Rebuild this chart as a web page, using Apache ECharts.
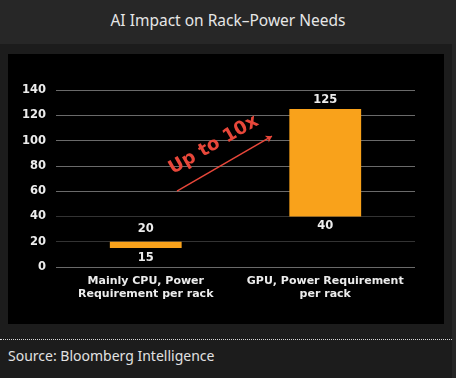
<!DOCTYPE html>
<html>
<head>
<meta charset="utf-8">
<script src="https://cdn.jsdelivr.net/npm/echarts@6/dist/echarts.min.js"></script>
<style>
  html, body { margin: 0; padding: 0; }
  body { width: 456px; height: 378px; background: #1c1c1c; overflow: hidden; position: relative; }
  #head { position: absolute; left: 0; top: 0; width: 456px; height: 44px; background: #272727;
          color: #e6e6e6; font: 15.5px "Noto Sans", sans-serif; text-align: center; line-height: 40px; }
  #chart { position: absolute; left: 8px; top: 54px; width: 436px; height: 270px; }
  #rule { position: absolute; left: 0; top: 339px; width: 452px; border-top: 1px dotted #d8d8d8; }
  #src { position: absolute; left: 8px; top: 346px; color: #e2e2e2; font: 14px "Noto Sans", sans-serif; }
  #bar { position: absolute; left: 452px; top: 44px; width: 4px; height: 334px; background: #262626; }
</style>
</head>
<body>
<div id="head">AI Impact on Rack–Power Needs</div>
<div id="chart"></div>
<div id="rule"></div>
<div id="src">Source: Bloomberg Intelligence</div>
<div id="bar"></div>
<script>
// rack power, floating bars low -> high
var categories = ['Mainly CPU, Power\nRequirement per rack', 'GPU, Power Requirement\nper rack'];
var lowValues = [15, 40];
var highValues = [20, 125];
var yTicks = { min: 0, max: 140, interval: 20 };
// "Up to 10x" arrow, in (category position, value) space
var arrowFrom = [0.674, 60];
var arrowTo = [1.203, 103.5];

var orange = '#f9a21b';
var red = '#e8473a';
var txt = '#ececec';
var font = '"DejaVu Sans", Verdana, sans-serif';

var spans = highValues.map(function(h, i) { return h - lowValues[i]; });
var topGap = [7, 3];

var chart = echarts.init(document.getElementById('chart'));
chart.setOption({
	backgroundColor: '#000',
	animation: false,
	grid: { left: 48, right: 29, top: 36, bottom: 57 },
	xAxis: [{
		type: 'category',
		data: categories,
		axisLine: { show: false },
		axisTick: { show: false },
		axisLabel: { interval: 0, color: txt, fontFamily: font, fontWeight: 'bold', fontSize: 11, lineHeight: 13, margin: 8 }
	}, {
		type: 'value',
		min: 0,
		max: 2,
		show: false
	}],
	yAxis: {
		type: 'value',
		min: yTicks.min,
		max: yTicks.max,
		interval: yTicks.interval,
		axisLine: { show: false },
		axisTick: { show: false },
		axisLabel: { color: txt, fontFamily: font, fontWeight: 'bold', fontSize: 11.5, margin: 10 },
		splitLine: {
			lineStyle: {
				color: ['#6a6a6a', '#333333', '#333333', '#6a6a6a', '#6a6a6a', '#6a6a6a', '#6a6a6a', '#6a6a6a'],
				width: 1
			}
		}
	},
	series: [{
		name: 'base',
		type: 'bar',
		stack: 'rack',
		barWidth: '40%',
		data: lowValues,
		itemStyle: { color: 'rgba(0,0,0,0)' },
		label: {
			show: true,
			position: 'insideTop',
			distance: 4,
			color: txt,
			fontFamily: font,
			fontWeight: 'bold',
			fontSize: 11.5
		}
	}, {
		name: 'power',
		type: 'bar',
		stack: 'rack',
		barWidth: '40%',
		data: spans.map(function(v, i) {
			return { value: v, label: { distance: topGap[i] } };
		}),
		itemStyle: { color: orange },
		label: {
			show: true,
			position: 'top',
			color: txt,
			fontFamily: font,
			fontWeight: 'bold',
			fontSize: 11.5,
			formatter: function(p) { return highValues[p.dataIndex]; }
		}
	}, {
		name: 'arrow',
		type: 'lines',
		coordinateSystem: 'cartesian2d',
		xAxisIndex: 1,
		yAxisIndex: 0,
		symbol: ['none', 'arrow'],
		symbolSize: 6,
		lineStyle: { color: red, width: 1.5, opacity: 1 },
		label: {
			show: true,
			position: 'insideMiddleTop',
			distance: 12,
			formatter: 'Up to 10x',
			color: red,
			fontFamily: font,
			fontWeight: 'bold',
			fontSize: 18.5
		},
		data: [{ coords: [arrowFrom, arrowTo] }]
	}]
});
</script>
</body>
</html>
